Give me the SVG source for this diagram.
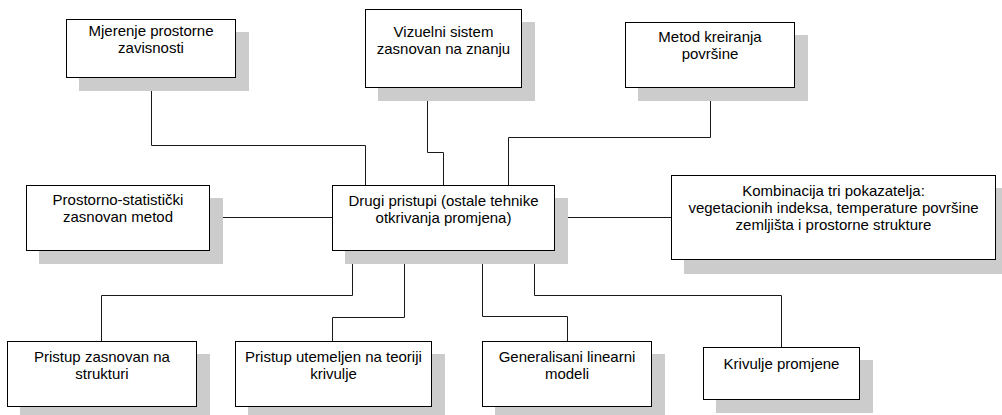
<svg xmlns="http://www.w3.org/2000/svg" width="1002" height="415" viewBox="0 0 1002 415">
<style>
.shadow{fill:#cccccc;stroke:none}
.box{fill:#ffffff;stroke:#000000;stroke-width:1}
.lbl{font-family:"Liberation Sans",Arial,sans-serif;font-size:15px;fill:#000000;text-anchor:middle}
.conn{fill:none;stroke:#1a1a1a;stroke-width:1}
</style>
<rect width="1002" height="415" fill="#ffffff"/>
<g id="connectors">
<path class="conn" d="M151.5,77.5 V145.5 H365.5 V185.5"/>
<path class="conn" d="M427.5,87.5 V152.5 H443.5 V185.5"/>
<path class="conn" d="M710.5,87.5 V137.5 H508.5 V185.5"/>
<path class="conn" d="M209.5,217.5 H332.5"/>
<path class="conn" d="M554.5,217.5 H671.5"/>
<path class="conn" d="M352.5,250.5 V295.5 H101.5 V341.5"/>
<path class="conn" d="M404.5,250.5 V317.5 H332.5 V341.5"/>
<path class="conn" d="M482.5,250.5 V316.5 H567.5 V341.5"/>
<path class="conn" d="M534.5,250.5 V295.5 H781.5 V347.5"/>
</g>
<g id="mjerenje">
<rect class="shadow" x="79" y="32" width="170" height="59"/>
<rect class="box" x="66.5" y="19.5" width="169" height="58"/>
<text class="lbl" x="151" y="35.5">Mjerenje prostorne</text>
<text class="lbl" x="151" y="52.7">zavisnosti</text>
</g>
<g id="vizuelni">
<rect class="shadow" x="378" y="22" width="157" height="79"/>
<rect class="box" x="365.5" y="9.5" width="156" height="78"/>
<text class="lbl" x="443.5" y="36.7">Vizuelni sistem</text>
<text class="lbl" x="443.5" y="53.5">zasnovan na znanju</text>
</g>
<g id="metod">
<rect class="shadow" x="638" y="35" width="170" height="66"/>
<rect class="box" x="625.5" y="22.5" width="169" height="65"/>
<text class="lbl" x="710" y="41.5">Metod kreiranja</text>
<text class="lbl" x="710" y="59">površine</text>
</g>
<g id="prostorno">
<rect class="shadow" x="39" y="198" width="184" height="66"/>
<rect class="box" x="26.5" y="185.5" width="183" height="65"/>
<text class="lbl" x="118" y="205">Prostorno-statistički</text>
<text class="lbl" x="118" y="222.3">zasnovan metod</text>
</g>
<g id="drugi">
<rect class="shadow" x="345" y="198" width="223" height="66"/>
<rect class="box" x="332.5" y="185.5" width="222" height="65"/>
<text class="lbl" x="443.5" y="205.5">Drugi pristupi (ostale tehnike</text>
<text class="lbl" x="443.5" y="222.7">otkrivanja promjena)</text>
</g>
<g id="kombinacija">
<rect class="shadow" x="684" y="188" width="325" height="86"/>
<rect class="box" x="671.5" y="175.5" width="324" height="84"/>
<text class="lbl" x="833.5" y="195.7">Kombinacija tri pokazatelja:</text>
<text class="lbl" x="833.5" y="212.9">vegetacionih indeksa, temperature površine</text>
<text class="lbl" x="833.5" y="230.1">zemljišta i prostorne strukture</text>
</g>
<g id="pristup-struktura">
<rect class="shadow" x="20" y="354" width="190" height="66"/>
<rect class="box" x="7.5" y="341.5" width="189" height="65"/>
<text class="lbl" x="102" y="361.7">Pristup zasnovan na</text>
<text class="lbl" x="102" y="378.5">strukturi</text>
</g>
<g id="pristup-krivulje">
<rect class="shadow" x="248" y="354" width="197" height="66"/>
<rect class="box" x="235.5" y="341.5" width="196" height="65"/>
<text class="lbl" x="333.5" y="361.7">Pristup utemeljen na teoriji</text>
<text class="lbl" x="333.5" y="378.5">krivulje</text>
</g>
<g id="generalisani">
<rect class="shadow" x="495" y="354" width="170" height="66"/>
<rect class="box" x="482.5" y="341.5" width="169" height="65"/>
<text class="lbl" x="567" y="361.7">Generalisani linearni</text>
<text class="lbl" x="567" y="378.5">modeli</text>
</g>
<g id="krivulje-promjene">
<rect class="shadow" x="716" y="360" width="157" height="53"/>
<rect class="box" x="703.5" y="347.5" width="156" height="52"/>
<text class="lbl" x="781.5" y="369.3">Krivulje promjene</text>
</g>
</svg>
